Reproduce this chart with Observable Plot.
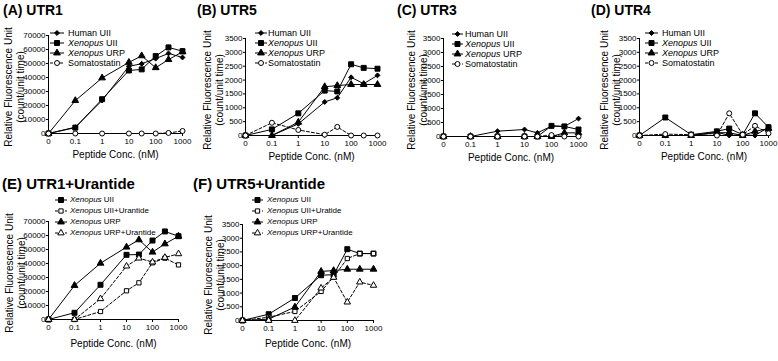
<!DOCTYPE html>
<html><head><meta charset="utf-8">
<script src="https://cdn.jsdelivr.net/npm/d3@7"></script>
<script src="https://cdn.jsdelivr.net/npm/@observablehq/plot@0.6"></script>
<style>
body{margin:0;background:#fff;font-family:"Liberation Sans",Arial,sans-serif;color:#000;}
#fig{position:relative;width:778px;height:361px;overflow:hidden;background:#fff;}
.title{position:absolute;font-weight:bold;line-height:16px;white-space:nowrap;}
.panel{position:absolute;}
.panel svg{overflow:visible;}
.lg{position:absolute;white-space:nowrap;}
.ylab{position:absolute;width:200px;height:12px;line-height:12px;font-size:10px;text-align:center;white-space:nowrap;transform:rotate(-90deg);transform-origin:50% 50%;}
</style></head><body><div id="fig"></div><script>
// ---------- data ----------
const conc = [0, 0.1, 1, 10, 30, 100, 300, 1000];
const xTickConc = [0, 0.1, 1, 10, 100, 1000];
const xTickLabels = ["0", "0.1", "1", "10", "100", "1000"];
const yTicksLarge = [0, 10000, 20000, 30000, 40000, 50000, 60000, 70000];
const yTicksSmall = [0, 500, 1000, 1500, 2000, 2500, 3000, 3500];

const titles = ["(A) UTR1", "(B) UTR5", "(C) UTR3", "(D) UTR4", "(E) UTR1+Urantide", "(F) UTR5+Urantide"];
const xLabel = "Peptide Conc. (nM)";
const yLabel1 = "Relative Fluorescence Unit";
const yLabel2 = "(count/unit time)";

// (A) UTR1
const utr1HumanUII   = [0, 4500, 23600, 48000, 49800, 53500, 57200, 54300];
const utr1XenUII     = [0, 4200, 24500, 45000, 45800, 55300, 61500, 58800];
const utr1XenURP     = [0, 23500, 39700, 50800, 55500, 47000, 52800, 58300];
const utr1Somato     = [0, 0, 0, 0, 0, 0, 400, 1800];
// (B) UTR5
const utr5HumanUII   = [0, 0, 420, 1210, 1360, 2100, 1870, 2170];
const utr5XenUII     = [0, 220, 800, 1620, 1590, 2570, 2440, 2410];
const utr5XenURP     = [0, 0, 480, 1760, 1800, 1840, 1840, 1840];
const utr5Somato     = [0, 460, 200, 30, 310, 0, 0, 0];
// (C) UTR3
const utr3HumanUII   = [0, 0, 190, 250, 130, 370, 360, 640];
const utr3XenUII     = [0, 0, 0, 0, 0, 380, 360, 250];
const utr3XenURP     = [0, 0, 0, 0, 0, 0, 130, 130];
const utr3Somato     = [0, 0, 0, 0, 0, 50, 0, 0];
// (D) UTR4
const utr4HumanUII   = [0, 0, 0, 120, 0, 30, 0, 300];
const utr4XenUII     = [0, 650, 30, 150, 250, 30, 800, 300];
const utr4XenURP     = [0, 0, 0, 100, 100, 0, 150, 250];
const utr4Somato     = [0, 50, 30, 0, 800, 30, 350, 80];
// (E) UTR1 + Urantide
const e1XenUII       = [0, 4800, 24800, 46200, 46400, 56400, 62900, 59500];
const e1XenUIIU      = [0, 0, 5700, 20500, 26200, 40500, 43800, 39000];
const e1XenURP       = [0, 24300, 40200, 51700, 56900, 48100, 54000, 59500];
const e1XenURPU      = [0, 0, 14800, 38100, 43800, 41000, 44300, 46900];
// (F) UTR5 + Urantide
const f5XenUII       = [0, 230, 820, 1650, 1670, 2600, 2440, 2440];
const f5XenUIIU      = [0, 120, 330, 1060, 1585, 2260, 2440, 2440];
const f5XenURP       = [0, 50, 490, 1790, 1820, 1870, 1870, 1870];
const f5XenURPU      = [0, 0, 0, 1180, 1570, 670, 1400, 1280];

// ---------- styles ----------
const seriesStyle = {
  humanUII: {symbol: "diamond2", fill: "black", r: 2.2, dash: null, ital: "", text: "Human UII"},
  xenUII:   {symbol: "square",   fill: "black", r: 2.8, dash: null, ital: "Xenopus", text: " UII"},
  xenURP:   {symbol: "triangle", fill: "black", r: 2.5, dash: null, ital: "Xenopus", text: " URP"},
  somato:   {symbol: "circle",   fill: "white", r: 2.5, dash: "3,2", ital: "", text: "Somatostatin"},
  xenUIIU:  {symbol: "square",   fill: "white", r: 2.4, dash: "3,2", ital: "Xenopus", text: " UII+Urantide"},
  xenUIIU2: {symbol: "square",   fill: "white", r: 2.4, dash: "3,2", ital: "Xenopus", text: " UII+Uratide"},
  xenURPU:  {symbol: "triangle", fill: "white", r: 2.4, dash: "3,2", ital: "Xenopus", text: " URP+Urantide"}
};
const d3sym = {diamond2: d3.symbolDiamond2, square: d3.symbolSquare, triangle: d3.symbolTriangle, circle: d3.symbolCircle};

const xpos = c => c === 0 ? -2 : Math.log10(c);
const xTickPos = xTickConc.map(xpos);

const panels = [
  {title: titles[0], tx: 3, ty: 2, tfs: 14, x0: 48, x1: 182, yTop: 35, y0: 133, yMax: 70000, yTicks: yTicksLarge,
   series: [["humanUII", utr1HumanUII], ["xenUII", utr1XenUII], ["xenURP", utr1XenURP], ["somato", utr1Somato]],
   lg: {sx: 50, sw: 14, tx: 68, y: 33, dy: 10, fs: 9}, ylx: -33, xly: 24},
  {title: titles[1], tx: 197, ty: 2, tfs: 14, x0: 245, x1: 377, yTop: 38, y0: 135, yMax: 3500, yTicks: yTicksSmall,
   series: [["humanUII", utr5HumanUII], ["xenUII", utr5XenUII], ["xenURP", utr5XenURP], ["somato", utr5Somato]],
   lg: {sx: 255, sw: 12, tx: 268, y: 33, dy: 10, fs: 9}, ylx: -31, xly: 24},
  {title: titles[2], tx: 397, ty: 2, tfs: 14, x0: 443, x1: 578, yTop: 38, y0: 136, yMax: 3500, yTicks: yTicksSmall,
   series: [["humanUII", utr3HumanUII], ["xenUII", utr3XenUII], ["xenURP", utr3XenURP], ["somato", utr3Somato]],
   lg: {sx: 452, sw: 11, tx: 465, y: 34, dy: 10, fs: 9}, ylx: -25, xly: 24},
  {title: titles[3], tx: 591, ty: 2, tfs: 14, x0: 639, x1: 768, yTop: 38, y0: 135, yMax: 3500, yTicks: yTicksSmall,
   series: [["humanUII", utr4HumanUII], ["xenUII", utr4XenUII], ["xenURP", utr4XenURP], ["somato", utr4Somato]],
   lg: {sx: 645, sw: 13, tx: 662, y: 33, dy: 10, fs: 9}, ylx: -28, xly: 24},
  {title: titles[4], tx: 2, ty: 176, tfs: 15, x0: 48, x1: 178, yTop: 221, y0: 319, yMax: 70000, yTicks: yTicksLarge,
   series: [["xenUII", e1XenUII], ["xenUIIU", e1XenUIIU], ["xenURP", e1XenURP], ["xenURPU", e1XenURPU]],
   lg: {sx: 55, sw: 12, tx: 70, y: 200, dy: 11, fs: 8}, ylx: -32, xly: 27},
  {title: titles[5], tx: 193, ty: 176, tfs: 15, x0: 242, x1: 373, yTop: 224, y0: 320, yMax: 3500, yTicks: yTicksSmall,
   series: [["xenUII", f5XenUII], ["xenUIIU2", f5XenUIIU], ["xenURP", f5XenURP], ["xenURPU", f5XenURPU]],
   lg: {sx: 252, sw: 11, tx: 267, y: 200, dy: 11, fs: 8}, ylx: -27, xly: 26}
];

const fig = document.getElementById("fig");
const mL = 48, mR = 7, mT = 30, mB = 45;

for (const p of panels) {
  const lineMarks = [], dotMarks = [];
  for (const [key, vals] of p.series) {
    const st = seriesStyle[key];
    const rows = conc.map((c, i) => ({x: xpos(c), y: vals[i]}));
    lineMarks.push(Plot.line(rows, {x: "x", y: "y", stroke: "black", strokeWidth: 1, strokeDasharray: st.dash || undefined}));
    dotMarks.push(Plot.dot(rows, {x: "x", y: "y", symbol: st.symbol, r: st.r, fill: st.fill, stroke: "black", strokeWidth: 1}));
  }

  const chart = Plot.plot({
    width: (p.x1 - p.x0) + mL + mR,
    height: (p.y0 - p.yTop) + mT + mB,
    marginLeft: mL, marginRight: mR, marginTop: mT, marginBottom: mB,
    style: {fontFamily: "'Liberation Sans', Arial, sans-serif", fontSize: "8px", color: "black", background: "transparent", overflow: "visible"},
    x: {domain: [-2, 3]},
    y: {domain: [0, p.yMax]},
    marks: [
      Plot.ruleY([0], {stroke: "black", strokeWidth: 1}),
      Plot.ruleX([xpos(0)], {stroke: "black", strokeWidth: 1}),
      Plot.axisX(xTickPos, {tickSize: 3, tickPadding: 2, label: null,
        tickFormat: d => xTickLabels[xTickPos.findIndex(v => Math.abs(v - d) < 1e-9)]}),
      Plot.axisY(p.yTicks, {tickSize: 2, tickPadding: 1, label: null, tickFormat: d => String(d)}),
      Plot.text([xLabel], {frameAnchor: "bottom", dy: p.xly, fontSize: 10}),
      ...lineMarks,
      ...dotMarks
    ]
  });
  const holder = document.createElement("div");
  holder.className = "panel";
  holder.style.left = (p.x0 - mL) + "px";
  holder.style.top = (p.yTop - mT) + "px";
  holder.appendChild(chart);
  fig.appendChild(holder);

  // rotated y-axis title, two lines
  const cy = (p.yTop + p.y0) / 2 + 3;
  [[yLabel1, p.ylx - 6], [yLabel2, p.ylx + 6]].forEach(([txt, off]) => {
    const d = document.createElement("div");
    d.className = "ylab";
    d.textContent = txt;
    d.style.left = (p.x0 + off - 100) + "px";
    d.style.top = (cy - 6) + "px";
    fig.appendChild(d);
  });

  const t = document.createElement("div");
  t.className = "title"; t.textContent = p.title;
  t.style.fontSize = p.tfs + "px";
  t.style.left = p.tx + "px"; t.style.top = p.ty + "px";
  fig.appendChild(t);

  // legend
  p.series.forEach(([key], i) => {
    const st = seriesStyle[key];
    const ly = p.lg.y + i * p.lg.dy;
    const svg = d3.create("svg").attr("width", p.lg.sw).attr("height", 10)
      .style("position", "absolute").style("left", p.lg.sx + "px").style("top", (ly - 5) + "px").style("overflow", "visible");
    svg.append("line").attr("x1", 0).attr("x2", p.lg.sw).attr("y1", 5).attr("y2", 5)
      .attr("stroke", "black").attr("stroke-width", 1).attr("stroke-dasharray", st.dash);
    svg.append("path").attr("d", d3.symbol(d3sym[st.symbol], Math.PI * st.r * st.r)())
      .attr("transform", `translate(${p.lg.sw / 2},5)`).attr("fill", st.fill).attr("stroke", "black").attr("stroke-width", 1);
    fig.appendChild(svg.node());
    const lab = document.createElement("div");
    lab.className = "lg";
    lab.style.left = p.lg.tx + "px";
    lab.style.fontSize = p.lg.fs + "px";
    lab.style.lineHeight = "10px";
    lab.style.top = (ly - 5) + "px";
    if (st.ital) { const it = document.createElement("i"); it.textContent = st.ital; lab.appendChild(it); }
    lab.appendChild(document.createTextNode(st.text));
    fig.appendChild(lab);
  });
}
</script></body></html>
